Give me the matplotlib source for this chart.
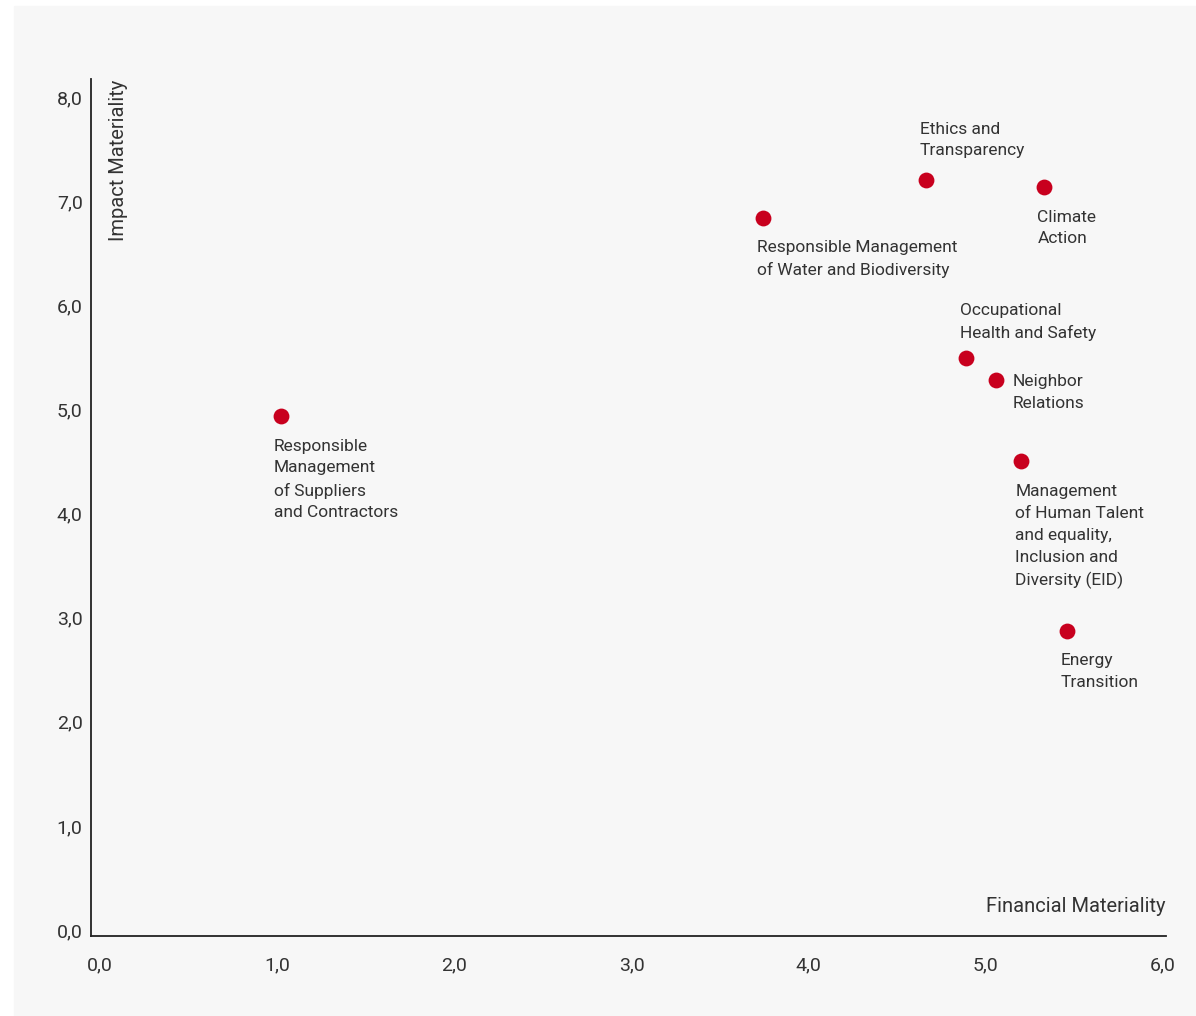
import matplotlib
matplotlib.use("Agg")
import matplotlib.pyplot as plt
from matplotlib.patches import Rectangle

plt.rcParams['font.family'] = ['Roboto', 'DejaVu Sans']

# datos de materialidad
topics = [
    "Responsible\nManagement\nof Suppliers\nand Contractors",
    "Responsible Management\nof Water and Biodiversity",
    "Ethics and\nTransparency",
    "Climate\nAction",
    "Occupational\nHealth and Safety",
    "Neighbor\nRelations",
    "Management\nof Human Talent\nand equality,\nInclusion and\nDiversity (EID)",
    "Energy\nTransition",
]
financial = [1.02, 3.74, 4.66, 5.33, 4.89, 5.06, 5.20, 5.46]
impact = [4.94, 6.84, 7.20, 7.14, 5.49, 5.28, 4.50, 2.87]

x_ticks = [0, 1, 2, 3, 4, 5, 6]
y_ticks = [0, 1, 2, 3, 4, 5, 6, 7, 8]

W, H = 1196, 1016
fig = plt.figure(figsize=(W / 100, H / 100), dpi=100)
fig.patch.set_facecolor("white")
fig.patches.append(Rectangle((14 / W, 0), 1 - 14 / W, 1 - 6 / H,
                             transform=fig.transFigure, color="#f7f7f7", zorder=-10))

ax = fig.add_axes([91 / W, 1 - 935.5 / H, (1166 - 91) / W, (935.5 - 79) / H])
ax.set_facecolor("none")
ax.set_xlim(-0.051, 6.017)
ax.set_ylim(-0.053, 8.173)

for side in ["top", "right"]:
    ax.spines[side].set_visible(False)
for side in ["left", "bottom"]:
    ax.spines[side].set_color("#222222")
    ax.spines[side].set_linewidth(1.3)

ax.set_xticks(x_ticks)
ax.set_yticks(y_ticks)
ax.set_xticklabels([f"{v:.1f}".replace(".", ",") for v in x_ticks])
ax.set_yticklabels([f"{v:.1f}".replace(".", ",") for v in y_ticks])
ax.tick_params(axis="x", length=0, pad=15, labelsize=14, labelcolor="#333333")
ax.tick_params(axis="y", length=0, pad=6, labelsize=14, labelcolor="#333333")

ax.scatter(financial, impact, s=130, color="#c8001e", zorder=3, linewidths=0)

# desplazamientos de etiquetas en pixeles (dx, dy, va)
offsets = [
    (-7, -23, "top"),
    (-6, -22, "top"),
    (-6, 22, "bottom"),
    (-7, -23, "top"),
    (-6, 17, "bottom"),
    (16, 6, "top"),
    (-6, -23, "top"),
    (-7, -22, "top"),
]
px = 72 / 100
for name, fx, iy, (dx, dy, va) in zip(topics, financial, impact, offsets):
    ax.annotate(name, (fx, iy), xytext=(dx * px, dy * px), textcoords="offset points",
                ha="left", va=va, fontsize=12.5, color="#333333", linespacing=1.56)

fig.text(118 / W, 1 - 80 / H, "Impact Materiality", rotation=90, ha="center", va="top",
         fontsize=14.5, color="#333333")
fig.text(1166 / W, 1 - 906 / H, "Financial Materiality", ha="right", va="center",
         fontsize=14.5, color="#333333")

fig.savefig("out.png", dpi=100, facecolor=fig.get_facecolor())
